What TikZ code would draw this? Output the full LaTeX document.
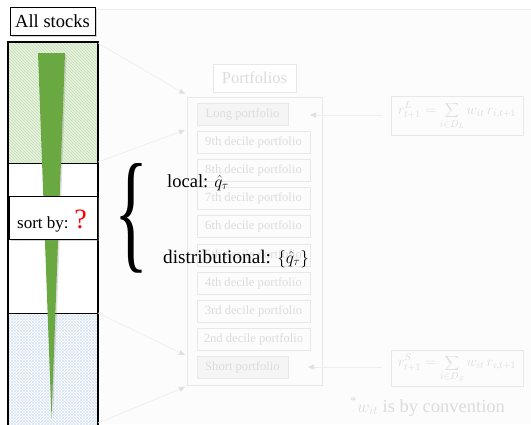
\documentclass[tikz,border=0pt]{standalone}
\usepackage{fontspec}
\setmainfont{Liberation Serif}
\newfontfamily\timesface{Liberation Serif}
\usepackage{graphicx}
\usetikzlibrary{patterns,shadows,arrows.meta}

\definecolor{wedgegreen}{RGB}{106,168,66}
\definecolor{greenbg}{RGB}{230,241,222}
\definecolor{greenhatch}{RGB}{196,222,178}
\definecolor{bluehatch}{RGB}{214,228,244}
\definecolor{fadetext}{RGB}{220,220,220}
\definecolor{fadeline}{RGB}{232,232,232}
\definecolor{fadearrow}{RGB}{238,238,238}
\definecolor{fadetip}{RGB}{224,224,224}
\definecolor{fadebg}{RGB}{252,252,252}
\definecolor{fadefill}{RGB}{245,245,245}

\begin{document}
\begin{tikzpicture}[x=1pt,y=-1pt,
  bigfont/.style={font=\timesface\fontsize{18.5}{21}\selectfont},
  labelbox/.style={draw=black, line width=0.8pt, fill=white,
    drop shadow={shadow xshift=1.8pt, shadow yshift=-1.8pt, opacity=0.35, fill=gray}},
  fadebox/.style={draw=fadeline, line width=0.8pt, text=fadetext,
    font=\timesface\fontsize{12.6}{14}\selectfont, inner sep=0pt},
  decilebox/.style={fadebox, minimum width=113, minimum height=22},
  endbox/.style={fadebox, fill=fadefill, minimum width=91, minimum height=22},
  formulabox/.style={fadebox, font=\timesface\fontsize{14.5}{16}\selectfont, minimum width=132},
  fadearrowline/.style={draw=fadearrow, line width=0.7pt,
    -{Triangle[length=6pt,width=5pt,color=fadetip]}}]

\useasboundingbox (0,0) rectangle (531,424);

% faint panel behind the portfolio part
\fill[fadebg] (98,9) rectangle (531,424);
\draw[fadearrow, line width=0.6pt] (98,9) -- (531,9);

% ---------- stock column ----------
\fill[greenbg] (8,42) rectangle (98,163);
\fill[pattern=north west lines, pattern color=greenhatch] (8,42) rectangle (98,163);
\fill[pattern=north east lines, pattern color=bluehatch] (8,313) rectangle (98,430);
\fill[pattern=north west lines, pattern color=bluehatch] (8,313) rectangle (98,430);
\draw[line width=0.9pt] (8,163) -- (98,163);
\draw[line width=0.9pt] (8,313) -- (98,313);
\draw[line width=1.2pt] (8,430) -- (8,42) -- (98,42) -- (98,430);

% tapering signal wedge with a soft shadow
\fill[gray, opacity=0.25] (39.5,54.5) -- (66.5,54.5) -- (53,419.5) -- cycle;
\fill[wedgegreen] (38,53) -- (65,53) -- (51.5,418) -- cycle;

\coordinate (colA) at (98,43);
\coordinate (colB) at (98,162);
\coordinate (colC) at (98,313);
\coordinate (colD) at (98,423);

\node[labelbox, bigfont, minimum width=85, minimum height=28, inner sep=0pt]
  (allstocks) at (52.5,21) {All stocks};

\node[labelbox, minimum width=88, minimum height=43, inner sep=0pt] (sortbox) at (53,217.5) {};
\node[font=\timesface\fontsize{17}{20}\selectfont, anchor=base west, inner sep=0pt]
  (sortlabel) at (17,228)
  {sort by: {\color{red}\fontsize{28}{28}\selectfont ?}};

% ---------- portfolios (faded) ----------
\node[fadebox, font=\timesface\fontsize{16.5}{18}\selectfont, minimum width=83, minimum height=28,
  fill=white, drop shadow={shadow xshift=1.2pt, shadow yshift=-1.2pt, opacity=0.06, fill=gray}]
  (portfolios) at (254.5,78) {Portfolios};
\node[draw=fadeline, line width=0.8pt, minimum width=135, minimum height=288, inner sep=0pt]
  (outer) at (254.5,241) {};

\node[endbox]    (p10) at (242.5,114) {Long portfolio};
\node[decilebox] (p9)  at (253.5,142.2) {9th decile portfolio};
\node[decilebox] (p8)  at (253.5,170.4) {8th decile portfolio};
\node[decilebox] (p7)  at (253.5,198.6) {7th decile portfolio};
\node[decilebox] (p6)  at (253.5,226.8) {6th decile portfolio};
\node[decilebox] (p5)  at (253.5,255.0) {5th decile portfolio};
\node[decilebox] (p4)  at (253.5,283.2) {4th decile portfolio};
\node[decilebox] (p3)  at (253.5,311.4) {3rd decile portfolio};
\node[decilebox] (p2)  at (253.5,339.6) {2nd decile portfolio};
\node[endbox]    (p1)  at (242.5,367.8) {Short portfolio};

\coordinate (inA) at (185,94);
\coordinate (inB) at (185,130);
\coordinate (inC) at (185,355);
\coordinate (inD) at (185,387);
\draw[fadearrowline] (colA) -- (inA);
\draw[fadearrowline] (colB) -- (inB);
\draw[fadearrowline] (colC) -- (inC);
\draw[fadearrowline] (colD) -- (inD);

% return formulas
\node[formulabox, minimum height=39] (retL) at (457,115.5)
  {$\displaystyle r^{L}_{t+1}=\sum_{i\in D_L} w_{it}\,r_{i,t+1}$};
\node[formulabox, minimum height=36] (retS) at (457,368)
  {$\displaystyle r^{S}_{t+1}=\sum_{i\in D_S} w_{it}\,r_{i,t+1}$};
\coordinate (fromL) at (382,115);
\coordinate (toL) at (310,115);
\coordinate (fromS) at (382,367);
\coordinate (toS) at (308,367);
\draw[fadearrowline] (fromL) -- (toL);
\draw[fadearrowline] (fromS) -- (toS);

\node[bigfont, text=fadetext, anchor=base west, inner sep=0pt] (note) at (350,412)
  {\textsuperscript{*}$w_{it}$ is by convention};

% ---------- sorting criteria ----------
\node[inner sep=0pt] (brace) at (131.5,218) {\resizebox{34pt}{92pt}{\timesface\{}};
\node[bigfont, anchor=base west, inner sep=0pt] (local) at (167,187) {local: $\hat{q}_\tau$};
\node[font=\timesface\fontsize{19.2}{21}\selectfont, anchor=base west, inner sep=0pt]
  (distr) at (163,263)
  {distributional: {\fontsize{18.5}{20}\selectfont$\{\hat{q}_\tau\}$}};

\end{tikzpicture}
\end{document}
